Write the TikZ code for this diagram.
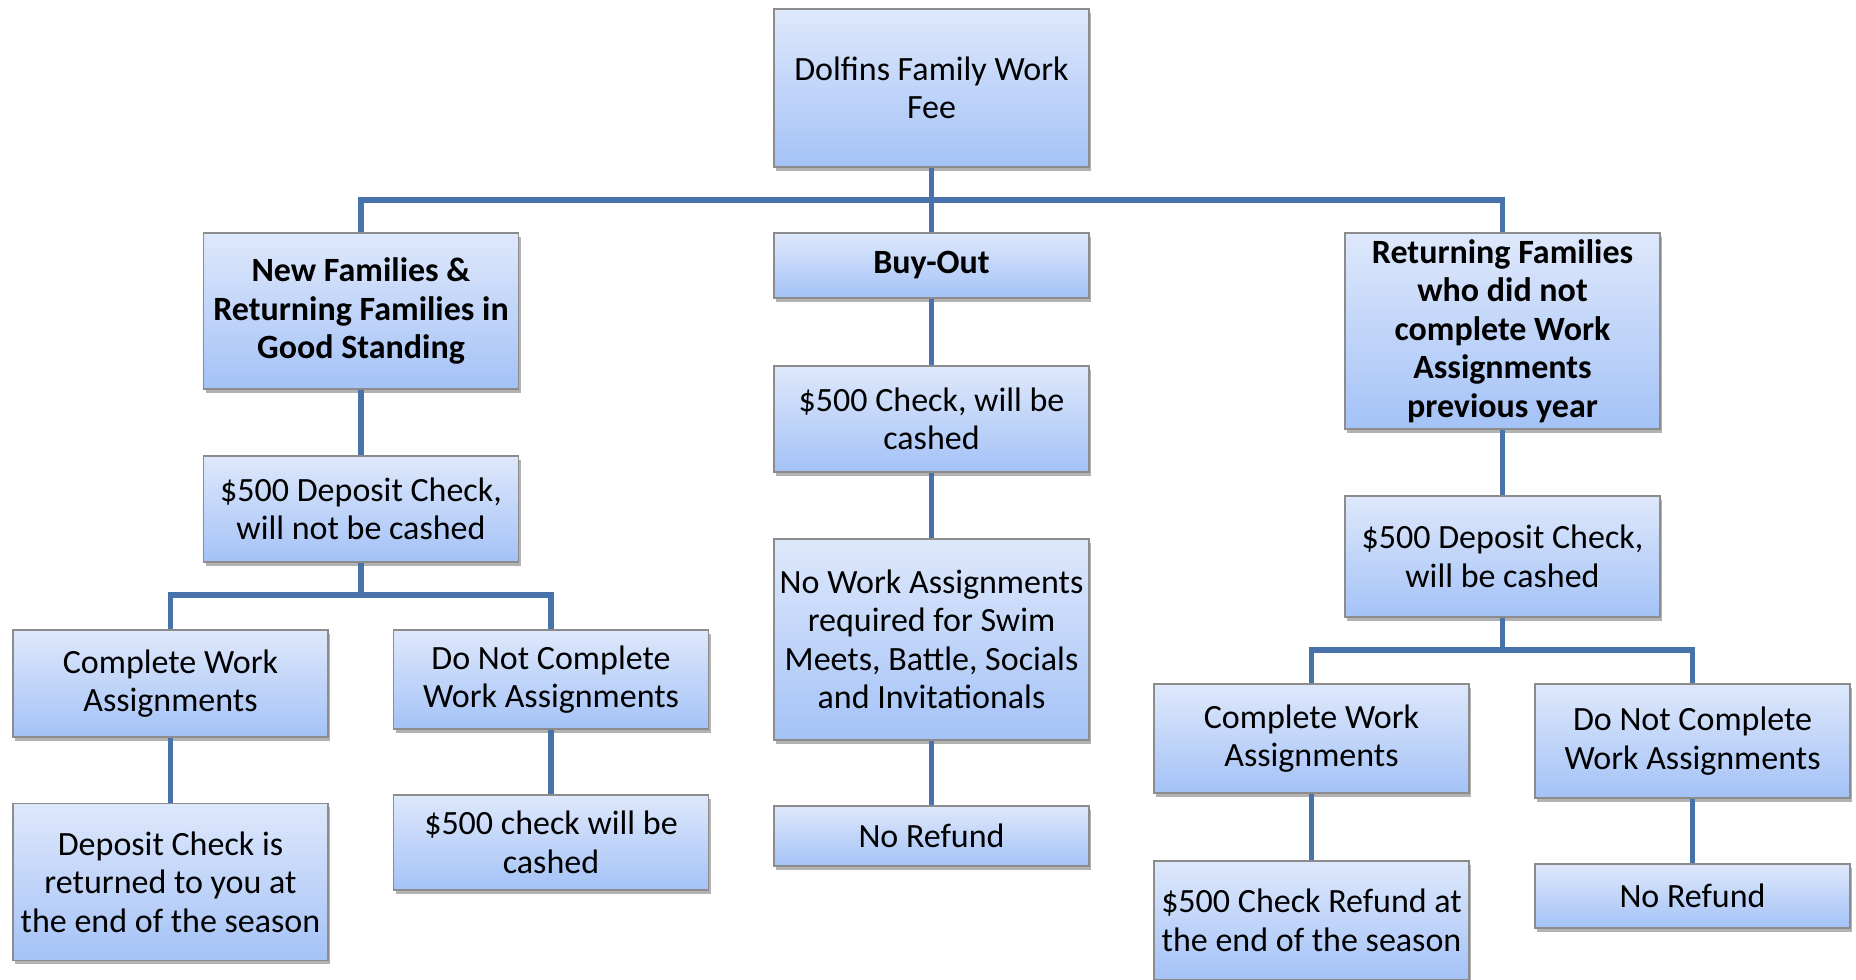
\documentclass[tikz,border=0pt]{standalone}
\usepackage{fontspec}
\setmainfont{Carlito}
\usetikzlibrary{shadows}
\definecolor{boxtop}{RGB}{222,232,251}
\definecolor{boxbot}{RGB}{164,194,247}
\definecolor{boxline}{RGB}{140,140,140}
\definecolor{linkblue}{RGB}{72,115,170}
\begin{document}
\begin{tikzpicture}[x=0.5pt, y=-0.5pt]
        \tikzstyle{box} = [shape=rectangle, draw=boxline, line width=0.6pt, top color=boxtop, bottom color=boxbot,
            align=center, inner sep=0pt, minimum width=157.5pt, font=\fontsize{17}{19.2}\selectfont,
            drop shadow={shadow xshift=1.2pt, shadow yshift=-1.8pt, opacity=0.3, fill=black}]
        \tikzstyle{link} = [draw=linkblue, line width=2.6pt]

        \useasboundingbox (0, 0) rectangle (1856, 979);

        \node[box, minimum height=79pt]   (root)   at (931.5, 88)   {Dolfins Family Work\\Fee};

            \node[box, minimum height=78pt, font=\fontsize{17}{19.2}\selectfont\bfseries]   (newfam) at (361, 311)
                {New Families \&\\Returning Families in\\Good Standing};
            \node[box, minimum height=32.5pt, font=\fontsize{17}{19.2}\selectfont\bfseries] (buyout) at (931.5, 265.5)
                {Buy-Out};
            \node[box, minimum height=98pt, font=\fontsize{17}{19.2}\selectfont\bfseries]   (retfam) at (1502.5, 331)
                {Returning Families\\who did not\\complete Work\\Assignments\\previous year};

            \node[box, minimum height=53pt]   (depnc)  at (361, 509)     {\$500 Deposit Check,\\will not be cashed};
            \node[box, minimum height=53pt]   (chkbo)  at (931.5, 419)   {\$500 Check, will be\\cashed};
            \node[box, minimum height=60.5pt] (depc)   at (1502.5, 556.5){\$500 Deposit Check,\\will be cashed};

                \node[box, minimum height=53.5pt] (cwleft)  at (170.5, 683.5) {Complete Work\\Assignments};
                \node[box, minimum height=49.5pt] (ncleft)  at (551, 679.5)   {Do Not Complete\\Work Assignments};
                \node[box, minimum height=100.5pt](nowork)  at (931.5, 639.5)
                    {No Work Assignments\\required for Swim\\Meets, Battle, Socials\\and Invitationals};
                \node[box, minimum height=54.5pt] (cwright) at (1311.5, 738.5) {Complete Work\\Assignments};
                \node[box, minimum height=57pt]   (ncright) at (1692.5, 741)   {Do Not Complete\\Work Assignments};

                \node[box, minimum height=78.5pt] (returned) at (170.5, 882)   {Deposit Check is\\returned to you at\\the end of the season};
                \node[box, minimum height=47.5pt] (cashed)   at (551, 842.5)   {\$500 check will be\\cashed};
                \node[box, minimum height=30pt]   (norefa)   at (931.5, 836)   {No Refund};
                \node[box, minimum height=59.5pt] (refund)   at (1311.5, 920.5){\$500 Check Refund at\\the end of the season};
                \node[box, minimum height=32pt]   (norefb)   at (1692.5, 896)  {No Refund};

        \coordinate (topbus)   at (931.5, 200);
        \coordinate (leftbus)  at (361, 595);
        \coordinate (rightbus) at (1502.5, 650);

        \draw[link] (root) -- (buyout);
        \draw[link] (newfam.north) |- (topbus) -| (retfam.north);

        \draw[link] (newfam) -- (depnc);
        \draw[link] (buyout) -- (chkbo);
        \draw[link] (retfam) -- (depc);

        \draw[link] (depnc.south) -- (leftbus);
        \draw[link] (cwleft.north) |- (leftbus) -| (ncleft.north);
        \draw[link] (chkbo) -- (nowork);
        \draw[link] (depc.south) -- (rightbus);
        \draw[link] (cwright.north) |- (rightbus) -| (ncright.north);

        \draw[link] (cwleft) -- (returned);
        \draw[link] (ncleft) -- (cashed);
        \draw[link] (nowork) -- (norefa);
        \draw[link] (cwright) -- (refund);
        \draw[link] (ncright) -- (norefb);

\end{tikzpicture}
\end{document}
